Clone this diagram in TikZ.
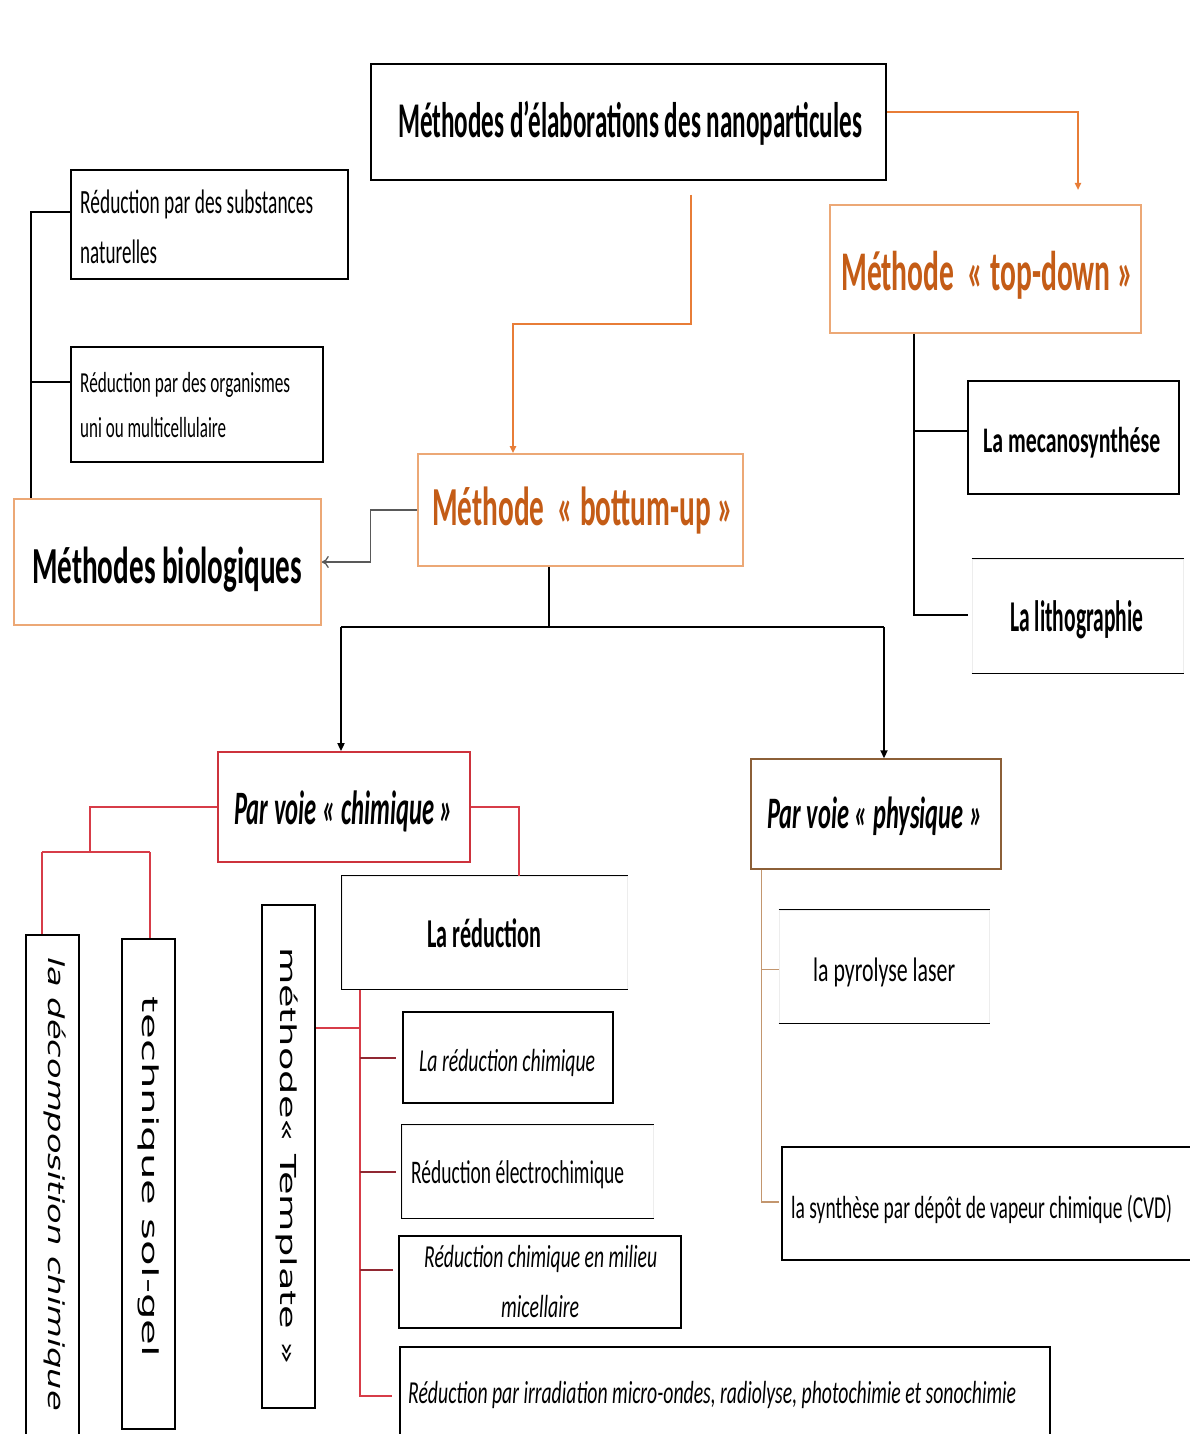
\documentclass[tikz,border=0pt]{standalone}
\usepackage{fontspec}
\setmainfont{Carlito}
\newfontfamily\gothic{DejaVu Sans}
\usepackage{graphicx}
\usetikzlibrary{arrows.meta}
\definecolor{cOline}{RGB}{232,125,55}
\definecolor{cOtext}{RGB}{196,92,22}
\definecolor{cOborder}{RGB}{236,168,118}
\definecolor{cRbox}{RGB}{205,50,60}
\definecolor{cRline}{RGB}{215,60,72}
\definecolor{cTick}{RGB}{145,40,50}
\definecolor{cTan}{RGB}{195,150,110}
\definecolor{cPborder}{RGB}{140,95,55}
\newcommand{\fitw}[3]{\resizebox{#1pt}{\height}{\fontsize{#2pt}{#2pt}\selectfont #3}}
\newcommand{\bx}[6]{\node[#6, minimum width={#4-#2}, minimum height={#5-#3}] (#1) at ({(#2+#4)/2},{(#3+#5)/2}) {};}
\tikzset{
  kbox/.style={draw=black, line width=1.8pt, inner sep=0pt},
  obox/.style={draw=cOborder, line width=1.6pt, inner sep=0pt},
  rbox/.style={draw=cRbox, line width=1.8pt, inner sep=0pt},
  pbox/.style={draw=cPborder, line width=1.4pt, inner sep=0pt},
  nobox/.style={draw=black!7, line width=1pt, inner sep=0pt},
  kline/.style={draw=black, line width=1.8pt},
  txt/.style={anchor=base west, inner sep=0pt},
  rot/.style={rotate=-90, inner sep=0pt, anchor=center},
  bconn/.style={draw=black, line width=1.5pt},
  oconn/.style={draw=cOline, line width=2.6pt},
  rconn/.style={draw=cRline, line width=2pt},
  tconn/.style={draw=cTick, line width=2pt},
  pconn/.style={draw=cTan, line width=1.5pt},
  otip/.style={-{Triangle[length=7pt,width=6pt]}},
  ktip/.style={-{Triangle[length=8pt,width=7pt]}},
}
\begin{document}
\begin{tikzpicture}[x=1pt,y=-1pt]
\useasboundingbox (0,0) rectangle (1190,1434);
\fill[white] (0,0) rectangle (1190,1434);
\clip (0,0) rectangle (1190,1434);

% boxes
\bx{title}{371}{64}{886}{180}{kbox}
\bx{td}{830}{205}{1141}{333}{obox}
\bx{bu}{418}{454}{743}{566}{obox}
\bx{bio}{14}{499}{321}{625}{obox}
\bx{s1}{71}{170}{348}{279}{kbox}
\bx{s2}{71}{347}{323}{462}{kbox}
\bx{meca}{968}{381}{1179}{494}{kbox}
\bx{litho}{972}{559}{1183}{673}{nobox}
\bx{chim}{218}{752}{470}{862}{rbox}
\bx{phys}{751}{759}{1001}{869}{pbox}
\bx{red}{342}{876}{627}{989}{nobox}
\bx{rc}{403}{1012}{613}{1103}{kbox}
\bx{el}{402}{1125}{653}{1218}{nobox}
\bx{mi}{399}{1236}{681}{1328}{kbox}
\bx{ir}{400}{1347}{1050}{1445}{kbox}
\bx{dec}{26}{935}{79}{1445}{kbox}
\bx{sg}{122}{939}{175}{1429}{kbox}
\bx{tmpl}{262}{905}{315}{1408}{kbox}
\bx{pyro}{779}{910}{989}{1023}{nobox}
\bx{cvd}{782}{1147}{1200}{1260}{kbox}

% partial edges
\draw[kline] (litho.north west) -- (litho.north east) (litho.south west) -- (litho.south east);
\draw[kline] (pyro.north west) -- (pyro.north east) (pyro.south west) -- (pyro.south east);
\draw[kline] (red.north east) -- (red.north west) -- (red.south west) -- (red.south east);
\draw[kline] (el.north east) -- (el.north west) -- (el.south west) -- (el.south east);

% texts
\node[txt] (tTitle) at (398,138) {\fitw{464}{50}{\bfseries Méthodes d’élaborations des nanoparticules}};
\node[txt, text=cOtext] (tTd) at (841,290) {\fitw{292}{56}{\bfseries Méthode~~« top-down »}};
\node[txt, text=cOtext] (tBu) at (432,525) {\fitw{301}{55}{\bfseries Méthode~~« bottum-up »}};
\node[txt] (tBio) at (32,583) {\fitw{270}{52}{\bfseries Méthodes biologiques}};
\node[txt] (tS1a) at (80,213) {\fitw{233}{34}{Réduction par des substances}};
\node[txt] (tS1b) at (80,263) {\fitw{77}{34}{naturelles}};
\node[txt] (tS2a) at (80,392) {\fitw{210}{29}{Réduction par des organismes}};
\node[txt] (tS2b) at (80,437) {\fitw{146}{29}{uni ou multicellulaire}};
\node[txt] (tMeca) at (983,452) {\fitw{177}{36}{\bfseries La mecanosynthése}};
\node[txt] (tLitho) at (1010,631) {\fitw{133}{44}{\bfseries La lithographie}};
\node[txt] (tChim) at (234,824) {\fitw{219}{48}{\bfseries\itshape Par voie « chimique »}};
\node[txt] (tPhys) at (767,828) {\fitw{215}{45}{\bfseries\itshape Par voie « physique »}};
\node[txt] (tRed) at (427,947) {\fitw{114}{41}{\bfseries La réduction}};
\node[txt] (tRc) at (419,1071) {\fitw{176}{32}{\itshape La réduction chimique}};
\node[txt] (tEl) at (411,1183) {\fitw{213}{33}{Réduction électrochimique}};
\node[txt] (tMia) at (424,1267) {\fitw{233}{32}{\itshape Réduction chimique en milieu}};
\node[txt] (tMib) at (501,1317) {\fitw{78}{32}{\itshape micellaire}};
\node[txt] (tIr) at (408,1403) {\fitw{608}{32}{\itshape Réduction par irradiation micro-ondes, radiolyse, photochimie et sonochimie}};
\node[txt] (tPyro) at (813,981) {\fitw{142}{34}{la pyrolyse laser}};
\node[txt] (tCvd) at (791,1218) {\fitw{381}{32}{la synthèse par dépôt de vapeur chimique (CVD)}};
\node[rot] (tDec) at (55,1184) {\resizebox{454pt}{\height}{\gothic\itshape\fontsize{22pt}{22pt}\selectfont la décomposition chimique}};
\node[rot] (tSg) at (148.5,1177) {\resizebox{360pt}{\height}{\gothic\fontsize{22pt}{22pt}\selectfont technique sol-gel}};
\node[rot] (tTmpl) at (287.5,1156) {\resizebox{418pt}{\height}{\gothic\fontsize{22pt}{22pt}\selectfont méthode« Template »}};

% orange connectors
\coordinate (tdIn) at (1078,190);
\draw[oconn, otip] ([yshift=10pt]title.east) -| (tdIn);
\coordinate (buStart) at (691,195);
\coordinate (buBend) at (691,324);
\draw[oconn, otip] (buStart) -- (buBend) -| ([xshift=-67.5pt]bu.north);

% bottom-up -> biologiques
\draw[draw=black!65, line width=1.3pt, -{To[length=7pt,width=12pt]}] (bu.west) -- ++(-47,0) |- (bio.east);

% biological bracket
\draw[bconn] ([yshift=12.5pt]s1.west) -| ([xshift=18pt]bio.north west);
\draw[bconn] ([yshift=22.5pt]s2.west) -- ++(-39,0);

% top-down children
\coordinate (tdA) at ([xshift=85pt]td.south west);
\draw[bconn] (tdA) |- ([yshift=6.5pt]meca.west);
\draw[bconn] (tdA) |- ([xshift=-4pt,yshift=1pt]litho.west);

% bottom-up -> chimique / physique
\coordinate (hub) at (549,627);
\coordinate (hl) at (341,627);
\coordinate (hr) at (884,627);
\draw[bconn] ([xshift=-31.5pt]bu.south) -- (hub);
\draw[draw=black, line width=2.8pt] (hl) -- (hr);
\draw[draw=black, line width=1.8pt, ktip] (hl) -- ([xshift=-3pt]chim.north);
\draw[draw=black, line width=1.8pt, ktip] (hr) -- ([xshift=8pt]phys.north);

% chimique red connectors
\coordinate (cl) at (90,852);
\coordinate (cL) at (42,852);
\coordinate (cR) at (150,852);
\draw[rconn] (chim.west) -| (cl);
\draw[rconn] (cL) -- (cR);
\draw[rconn] (cL) -- (cL |- dec.north);
\draw[rconn] (cR) -- (cR |- sg.north);
\draw[rconn] (chim.east) -| ([xshift=177pt]red.north west);

% template and reduction bus
\coordinate (busTop) at ([xshift=18pt]red.south west);
\coordinate (tmT) at ([yshift=128.5pt]tmpl.east);
\draw[rconn] (tmT) -- (tmT -| busTop);
\draw[rconn] (busTop) |- ([xshift=-7pt]ir.west);
\draw[tconn] (busTop |- rc.west) -- ([xshift=-6pt]rc.west);
\draw[tconn] (busTop |- el.west) -- ([xshift=-6pt]el.west);
\coordinate (miT) at ([yshift=12pt]mi.west);
\draw[tconn] (miT -| busTop) -- ([xshift=-5pt]miT);

% physique children
\coordinate (pv) at ([xshift=11pt]phys.south west);
\draw[pconn] (pv) |- ([xshift=-2pt,yshift=1.5pt]cvd.west);
\draw[pconn] (pv |- pyro.west) ++(0,3) -- ([yshift=-3pt]pyro.west);
\end{tikzpicture}
\end{document}
